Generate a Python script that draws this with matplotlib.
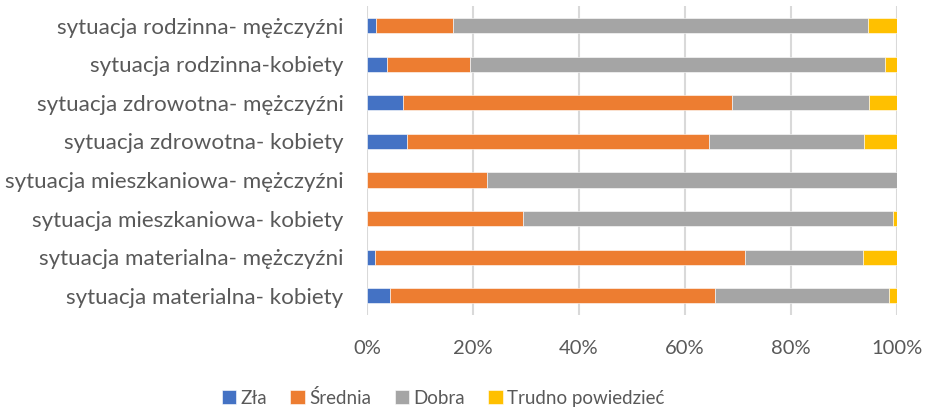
import matplotlib
matplotlib.use("Agg")
import matplotlib.pyplot as plt
import numpy as np

# survey answers, percent of respondents (top row first)
categories = [
    "sytuacja rodzinna- mężczyźni",
    "sytuacja rodzinna-kobiety",
    "sytuacja zdrowotna- mężczyźni",
    "sytuacja zdrowotna- kobiety",
    "sytuacja mieszkaniowa- mężczyźni",
    "sytuacja mieszkaniowa- kobiety",
    "sytuacja materialna- mężczyźni",
    "sytuacja materialna- kobiety",
]
zla = [1.7, 3.8, 6.8, 7.5, 0.0, 0.0, 1.6, 4.4]
srednia = [14.6, 15.7, 62.1, 57.1, 22.7, 29.4, 69.8, 61.3]
dobra = [78.3, 78.2, 25.9, 29.2, 77.3, 69.9, 22.2, 32.8]
trudno = [5.4, 2.3, 5.2, 6.2, 0.0, 0.7, 6.4, 1.5]

series = [("Zła", zla, "#4472C4"), ("Średnia", srednia, "#ED7D31"),
          ("Dobra", dobra, "#A5A5A5"), ("Trudno powiedzieć", trudno, "#FFC000")]

plt.rcParams["font.family"] = ["Lato", "DejaVu Sans"]
TXT = "#595959"

fig = plt.figure(figsize=(9.27, 4.11), dpi=100)
ax = fig.add_axes([0.3959, 0.2336, 0.5717, 0.7508])

y = np.arange(len(categories))
left = np.zeros(len(categories))
for name, vals, col in series:
    v = np.array(vals)
    ax.barh(y, v, left=left, height=0.39, color=col, label=name,
            edgecolor="white", linewidth=0.4, zorder=3)
    left += v

ax.set_ylim(len(categories) - 0.5, -0.5)
ax.set_xlim(0, 100)
ax.set_yticks(y)
ax.set_yticklabels(categories, fontsize=16.1, color=TXT)
ax.set_xticks(np.arange(0, 101, 20))
ax.set_xticklabels([f"{t}%" for t in range(0, 101, 20)], fontsize=14.5, color=TXT)
ax.tick_params(length=0)
ax.tick_params(axis="y", pad=17)
ax.tick_params(axis="x", pad=18)
ax.grid(axis="x", color="#D9D9D9", lw=1.5, zorder=0)
for s in ax.spines.values():
    s.set_visible(False)

fig.legend(loc="center", bbox_to_anchor=(0.478, 0.032), ncol=4, frameon=False,
           fontsize=13.5, labelcolor=TXT, handlelength=0.75, handleheight=0.75,
           handletextpad=0.25, columnspacing=1.25, borderpad=0)

fig.savefig("out.png", dpi=100)
